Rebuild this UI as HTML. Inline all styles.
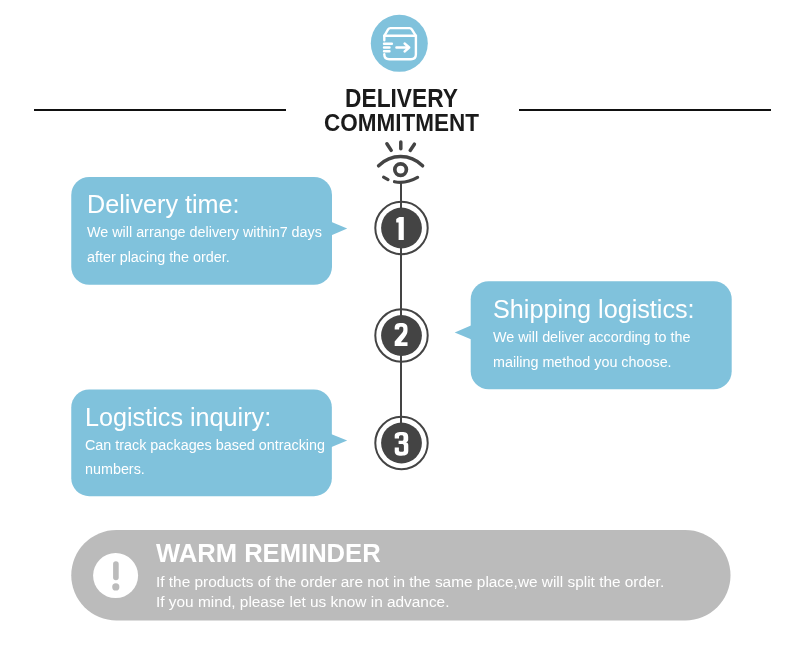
<!DOCTYPE html>
<html>
<head>
<meta charset="utf-8">
<style>
html,body{margin:0;padding:0;background:#fff;}
body{width:800px;height:647px;position:relative;overflow:hidden;font-family:"Liberation Sans",sans-serif;}
svg.bg{position:absolute;left:0;top:0;}
.t{position:absolute;white-space:nowrap;line-height:1;will-change:transform;}
.h{font-weight:bold;font-size:22.75px;color:#1b1b1b;left:0;width:803px;text-align:center;transform:scaleY(1.1);transform-origin:50% 0;}
.bt{color:#fff;font-size:25.2px;}
.bb{color:#fff;font-size:14.35px;}
.wr{color:#fff;font-weight:bold;font-size:25.6px;}
.wb{color:#fff;font-size:15.4px;}
</style>
</head>
<body>
<svg class="bg" width="800" height="647" viewBox="0 0 800 647">
  <!-- header lines -->
  <rect x="34" y="109" width="252" height="2" fill="#111"/>
  <rect x="519" y="109" width="252" height="2" fill="#111"/>
  <!-- top icon -->
  <circle cx="399.3" cy="43.3" r="28.5" fill="#80c2dc"/>
  <g fill="none" stroke="#fff" stroke-width="2.4" stroke-linecap="round" stroke-linejoin="round">
    <path d="M384.3 40.2 V35.8 L388.1 29.4 Q388.9 28.1 390.4 28.1 H409.5 Q411 28.1 411.8 29.4 L415.9 35.8 V54.2 Q415.9 59.2 410.9 59.2 H389.3 Q384.3 59.2 384.3 54.2 V54.8"/>
    <path d="M384.3 35.8 H415.9"/>
    <path d="M384 43.8 H391.9 M384 47.5 H389.5 M384 51.3 H389.5"/>
    <path d="M396.4 47.5 H409.2 M404.6 43.5 L409.2 47.5 L404.6 51.5"/>
  </g>
  <!-- eye -->
  <g fill="none" stroke="#444" stroke-width="3.2" stroke-linecap="round">
    <path d="M386.9 143.8 L391.2 150.4" stroke-width="3.5"/>
    <path d="M400.8 142 V148.8" stroke-width="3.5"/>
    <path d="M414.4 144.2 L410.2 150.4" stroke-width="3.5"/>
    <path d="M378.6 165.8 C385 159.6 392 156.6 400.6 156.6 C409.2 156.6 416.2 159.6 422.6 165.8" stroke-width="3.5"/>
    <circle cx="400.6" cy="169.6" r="5.8" stroke-width="3.7"/>
    <path d="M383.6 177.2 L388 179.6"/>
    <path d="M394.5 181.7 Q406 184 417.6 177.4"/>
  </g>
  <!-- vertical line -->
  <rect x="400" y="182" width="2" height="241" fill="#444"/>
  <!-- number circles -->
  <g fill="none" stroke="#444" stroke-width="2">
    <circle cx="401.5" cy="228" r="26.2"/>
    <circle cx="401.5" cy="335.5" r="26.2"/>
    <circle cx="401.5" cy="443" r="26.2"/>
  </g>
  <g fill="#444">
    <circle cx="401.5" cy="228" r="20.4"/>
    <circle cx="401.5" cy="335.5" r="20.4"/>
    <circle cx="401.5" cy="443" r="20.4"/>
  </g>
  <!-- digits -->
  <g fill="#fff">
    <path d="M399.4 216.9 H403.8 V239.9 H398.6 V222.4 H396.2 V219.6 Q396.2 218.9 396.9 218.6 Z"/>
    <path transform="translate(401.1 0) scale(0.93 1) translate(-401.1 0)" d="M394.2 329.6 V328 C394.2 324.3 396.5 323 401.2 323 C405.9 323 408 324.3 408 328.5 V330.5 C408 333 407.2 334.5 405.3 337 L400.8 342.3 H408 V345.9 H394.2 V341.5 L402.5 332.5 C403.3 331.5 403.5 330.8 403.5 329.5 V328.7 C403.5 327.2 402.8 326.7 401.2 326.7 C399.6 326.7 399 327.2 399 328.7 V329.6 Z"/>
    <path d="M394.7 438.6 V436 C394.7 433 396.8 432 401.5 432 C406.3 432 408.2 433.2 408.2 437 V439.5 C408.2 441 407.5 442 406 442.3 C407.7 442.7 408.3 443.7 408.3 445.5 V450.8 C408.3 454.5 406.3 455.7 401.5 455.7 C396.7 455.7 394.7 454.6 394.7 451 V447.5 H398.9 V450.4 C398.9 451.3 399.6 451.7 401.5 451.7 C403.4 451.7 403.9 451.2 403.9 450.2 V445.8 C403.9 444.3 403.3 443.9 401.5 443.9 H398.6 V440.8 H401.5 C403.1 440.8 403.5 440.3 403.5 439 V437 C403.5 435.8 402.9 435.3 401.5 435.3 C399.7 435.3 399 435.8 399 437 V438.6 Z"/>
  </g>
  <!-- bubbles -->
  <g fill="#80c2dc">
    <rect x="71.25" y="177" width="260.75" height="107.75" rx="18"/>
    <path d="M331 221.7 L347.2 228.5 L331 235.4 Z"/>
    <rect x="470.7" y="281.25" width="261" height="108" rx="18"/>
    <path d="M471.5 325.3 L454.7 332.5 L471.5 339.5 Z"/>
    <rect x="71.25" y="389.4" width="260.6" height="106.8" rx="18"/>
    <path d="M331 433.9 L347.2 440.4 L331 447.2 Z"/>
  </g>
  <!-- warm reminder -->
  <rect x="71.25" y="530" width="659.25" height="90.4" rx="45.2" fill="#bbbbbb"/>
  <circle cx="115.6" cy="575.6" r="22.5" fill="#fff"/>
  <path d="M115.9 564 V577.5" stroke="#bbb" stroke-width="5.6" stroke-linecap="round"/>
  <circle cx="115.8" cy="586.9" r="3.6" fill="#bbb"/>
</svg>

<div class="t h" style="top:86px;">DELIVERY</div>
<div class="t h" style="top:111px;font-size:22.5px;transform:scaleY(1.09);">COMMITMENT</div>

<div class="t bt" style="left:87px;top:192px;">Delivery time:</div>
<div class="t bb" style="left:87px;top:225px;">We will arrange delivery within7 days</div>
<div class="t bb" style="left:87px;top:250.2px;">after placing the order.</div>

<div class="t bt" style="left:492.5px;top:297px;">Shipping logistics:</div>
<div class="t bb" style="left:492.7px;top:329.5px;">We will deliver according to the</div>
<div class="t bb" style="left:492.7px;top:354.9px;">mailing method you choose.</div>

<div class="t bt" style="left:84.5px;top:404.5px;">Logistics inquiry:</div>
<div class="t bb" style="left:85px;top:438px;">Can track packages based ontracking</div>
<div class="t bb" style="left:85px;top:462.3px;">numbers.</div>

<div class="t wr" style="left:155.5px;top:541px;">WARM REMINDER</div>
<div class="t wb" style="left:156px;top:574px;">If the products of the order are not in the same place,we will split the order.</div>
<div class="t wb" style="left:156px;top:594px;">If you mind, please let us know in advance.</div>
</body>
</html>
